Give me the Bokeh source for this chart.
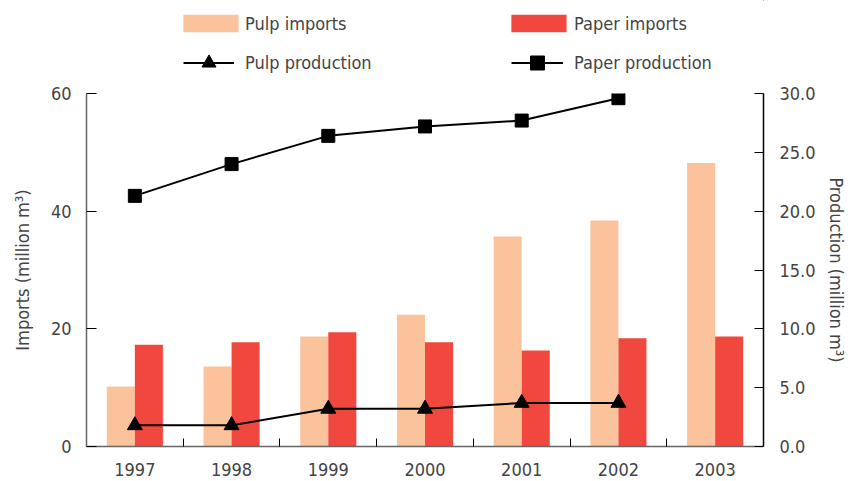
import numpy as np
from bokeh.plotting import figure
from bokeh.layouts import column
from bokeh.models import (Range1d, LinearAxis, FixedTicker, Legend, LegendItem,
                          NumeralTickFormatter, ColumnDataSource)
from bokeh.transform import dodge
from bokeh.embed import file_html
from bokeh.resources import INLINE

# ---- data ----
years = ["1997", "1998", "1999", "2000", "2001", "2002", "2003"]
pulp_imports = [10.2, 13.6, 18.7, 22.4, 35.7, 38.4, 48.2]
paper_imports = [17.3, 17.7, 19.4, 17.7, 16.3, 18.4, 18.7]
prod_years = ["1997", "1998", "1999", "2000", "2001", "2002"]
pulp_production = [1.8, 1.8, 3.2, 3.2, 3.7, 3.7]
paper_production = [21.3, 24.0, 26.4, 27.2, 27.7, 29.6]
left_ticks = [0, 20, 40, 60]
right_ticks = [0, 5, 10, 15, 20, 25, 30]

FONT = "'DejaVu Sans Condensed', Roboto"
FS = "18px"
PULP_C = "#FBC39C"
PAPER_C = "#F0483F"

n = len(years)
xc = [i + 0.5 for i in range(n)]
bars = ColumnDataSource(dict(x=xc, pulp=pulp_imports, paper=paper_imports))
prod = ColumnDataSource(dict(x=[i + 0.5 for i in range(len(prod_years))],
                             pulp=pulp_production, paper=paper_production))

W = 857
LH = 78
BL, BR = 86, 94
p = figure(width=W, height=481 - LH, output_backend="svg", toolbar_location=None,
           x_range=Range1d(0, n), y_range=Range1d(0, 60),
           min_border_left=BL, min_border_right=BR, min_border_top=15,
           min_border_bottom=35)
p.extra_y_ranges = {"prod": Range1d(0, 30)}
p.xgrid.visible = False
p.ygrid.visible = False
p.outline_line_color = None

bw = 0.29
r_pulp = p.vbar(x=dodge("x", -bw / 2), top="pulp", width=bw, source=bars,
                fill_color=PULP_C, line_color=None)
r_paper = p.vbar(x=dodge("x", bw / 2), top="paper", width=bw, source=bars,
                 fill_color=PAPER_C, line_color=None)

l_paper = p.line("x", "paper", source=prod, y_range_name="prod",
                 line_color="black", line_width=2)
s_paper = p.scatter("x", "paper", source=prod, y_range_name="prod",
                    marker="square", size=13, fill_color="black", line_color="black")
l_pulp = p.line("x", "pulp", source=prod, y_range_name="prod",
                line_color="black", line_width=2)
s_pulp = p.scatter("x", "pulp", source=prod, y_range_name="prod",
                   marker="triangle", size=15, fill_color="black", line_color="black")

# x axis
xa = p.xaxis[0]
xa.ticker = FixedTicker(ticks=xc, minor_ticks=[i for i in range(1, n)])
xa.major_label_overrides = {x: y for x, y in zip(xc, years)}
xa.major_tick_line_color = None
xa.minor_tick_in = 8
xa.minor_tick_out = 0
xa.minor_tick_line_color = "black"
xa.axis_line_color = "#666666"
xa.axis_line_width = 1.5
xa.major_label_text_font = FONT
xa.major_label_text_font_size = FS
xa.major_label_standoff = 10

# left axis
ya = p.yaxis[0]
ya.ticker = FixedTicker(ticks=left_ticks)
ya.major_tick_in = 10
ya.major_tick_out = 0
ya.minor_tick_line_color = None
ya.axis_line_color = "#666666"
ya.axis_line_width = 1.5
ya.major_label_text_font = FONT
ya.major_label_text_font_size = FS
ya.major_label_standoff = 15
ya.axis_label = "Imports (million m³)"
ya.axis_label_text_font = FONT
ya.axis_label_text_font_size = FS
ya.axis_label_text_font_style = "normal"
ya.axis_label_standoff = 15

# right axis
ra = LinearAxis(y_range_name="prod", ticker=FixedTicker(ticks=right_ticks),
                formatter=NumeralTickFormatter(format="0.0"))
ra.major_tick_in = 9
ra.major_tick_out = 0
ra.minor_tick_line_color = None
ra.axis_line_color = "black"
ra.axis_line_width = 1.5
ra.major_label_text_font = FONT
ra.major_label_text_font_size = FS
ra.major_label_standoff = 16
ra.axis_label = "Production (million m³)"
ra.axis_label_text_font = FONT
ra.axis_label_text_font_size = FS
ra.axis_label_text_font_style = "normal"
ra.axis_label_standoff = 7
p.add_layout(ra, "right")

# ---- legend strip (separate figure above the chart) ----
lg = figure(width=W, height=LH, output_backend="svg", toolbar_location=None,
            x_range=Range1d(-200, -199), y_range=Range1d(-200, -199),
            min_border_left=BL, min_border_right=BR, min_border_top=0,
            min_border_bottom=0)
lg.axis.visible = False
lg.xgrid.visible = False
lg.ygrid.visible = False
lg.outline_line_color = None

# legend proxies: same data, kept outside the strip's visible range
d_pulp = lg.vbar(x="x", top="pulp", width=bw, source=bars,
                 fill_color=PULP_C, line_color=None)
d_paper = lg.vbar(x="x", top="paper", width=bw, source=bars,
                  fill_color=PAPER_C, line_color=None)
d_lpulp = lg.line("x", "pulp", source=prod, line_color="black", line_width=2)
d_spulp = lg.scatter("x", "pulp", source=prod, marker="triangle", size=15,
                     fill_color="black", line_color="black")
d_lpaper = lg.line("x", "paper", source=prod, line_color="black", line_width=2)
d_spaper = lg.scatter("x", "paper", source=prod, marker="square", size=13,
                      fill_color="black", line_color="black")


def mk_legend(label, renderers, loc, gw, gh, standoff):
    leg = Legend(items=[LegendItem(label=label, renderers=renderers)],
                 location=loc, orientation="vertical",
                 glyph_width=gw, glyph_height=gh, label_standoff=standoff,
                 padding=0, margin=0, border_line_color=None,
                 background_fill_alpha=0, label_text_font=FONT,
                 label_text_font_size=FS, label_height=20)
    lg.add_layout(leg)


mk_legend("Pulp imports", [d_pulp], (90, 44), 69, 22, 0)
mk_legend("Paper imports", [d_paper], (418, 44), 69, 22, 1)
mk_legend("Pulp production", [d_lpulp, d_spulp], (97, -2), 51, 35, 11)
mk_legend("Paper production", [d_lpaper, d_spaper], (425, -2), 52, 35, 11)

layout = column(lg, p, spacing=0)
open("out.html", "w").write(file_html(layout, INLINE))
